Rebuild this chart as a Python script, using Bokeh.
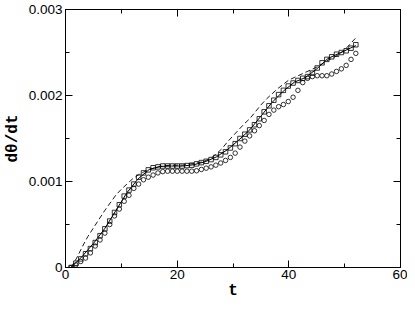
from bokeh.plotting import figure
from bokeh.models import LinearAxis, FixedTicker, CustomJSTickFormatter
from bokeh.embed import file_html
from bokeh.resources import INLINE

# ---- data ----
t_pts = [1.00, 1.86, 2.73, 3.59, 4.46, 5.32, 6.19, 7.05, 7.92, 8.78,
         9.64, 10.51, 11.37, 12.24, 13.10, 13.97, 14.83, 15.69, 16.56, 17.42,
         18.29, 19.15, 20.02, 20.88, 21.75, 22.61, 23.47, 24.34, 25.20, 26.07,
         26.93, 27.80, 28.66, 29.53, 30.39, 31.25, 32.12, 32.98, 33.85, 34.71,
         35.58, 36.44, 37.31, 38.17, 39.03, 39.90, 40.76, 41.63, 42.49, 43.36,
         44.22, 45.08, 45.95, 46.81, 47.68, 48.54, 49.41, 50.27, 51.14, 52.00]

squares = [0.00, 0.05, 0.10, 0.16, 0.22, 0.29, 0.37, 0.45, 0.54, 0.64,
           0.73, 0.83, 0.90, 0.97, 1.05, 1.10, 1.135, 1.16, 1.17, 1.18,
           1.18, 1.18, 1.18, 1.18, 1.185, 1.19, 1.205, 1.22, 1.235, 1.255,
           1.28, 1.31, 1.345, 1.39, 1.44, 1.50, 1.55, 1.60, 1.66, 1.73,
           1.81, 1.88, 1.945, 2.01, 2.06, 2.11, 2.145, 2.175, 2.20, 2.22,
           2.26, 2.32, 2.38, 2.42, 2.45, 2.48, 2.50, 2.52, 2.55, 2.59]

circles = [0.00, 0.03, 0.07, 0.11, 0.17, 0.25, 0.32, 0.40, 0.50, 0.60,
           0.68, 0.77, 0.84, 0.92, 0.97, 1.02, 1.05, 1.075, 1.10, 1.115,
           1.12, 1.12, 1.12, 1.12, 1.12, 1.12, 1.125, 1.14, 1.155, 1.17,
           1.19, 1.215, 1.245, 1.28, 1.33, 1.40, 1.47, 1.53, 1.59, 1.65,
           1.71, 1.78, 1.83, 1.87, 1.895, 1.93, 1.98, 2.06, 2.15, 2.20,
           2.22, 2.23, 2.23, 2.23, 2.25, 2.28, 2.31, 2.35, 2.42, 2.49]

t_solid = [1, 3, 5, 7, 9, 11, 13, 15, 17, 19, 21, 23, 25, 27, 29, 31, 33,
           35, 37, 39, 41, 43, 45, 47, 49, 51, 52]
solid = [0.0, 0.13, 0.28, 0.45, 0.66, 0.87, 1.03, 1.14, 1.175, 1.18, 1.18,
         1.195, 1.23, 1.285, 1.37, 1.48, 1.60, 1.76, 1.92, 2.05, 2.155, 2.21,
         2.31, 2.43, 2.49, 2.55, 2.58]

t_dash = list(range(1, 53))
dashed = [0.0, 0.11, 0.24, 0.36, 0.46, 0.56, 0.66, 0.75, 0.84, 0.91,
          0.97, 1.03, 1.075, 1.11, 1.14, 1.16, 1.175, 1.185, 1.19, 1.19,
          1.19, 1.20, 1.21, 1.22, 1.24, 1.27, 1.32, 1.38, 1.46, 1.53,
          1.60, 1.67, 1.73, 1.81, 1.89, 1.96, 2.02, 2.08, 2.13, 2.18,
          2.21, 2.24, 2.27, 2.30, 2.33, 2.37, 2.41, 2.44, 2.48, 2.53,
          2.60, 2.67]

x_ticks = [0, 20, 40, 60]
x_minor = [10, 30, 50]
y_ticks = [0, 0.001, 0.002, 0.003]
y_minor = [0.0005, 0.0015, 0.0025]

scale = 1e-3
sq = [v * scale for v in squares]
ci = [v * scale for v in circles]
so = [v * scale for v in solid]
da = [v * scale for v in dashed]

p = figure(width=407, height=302, x_range=(0, 60), y_range=(0, 0.003),
           output_backend="svg", toolbar_location=None,
           min_border_left=0, min_border_right=7, min_border_top=9,
           min_border_bottom=0)
p.xgrid.visible = False
p.ygrid.visible = False
p.outline_line_color = "black"
p.outline_line_width = 1
p.background_fill_color = "white"
p.border_fill_color = "white"

p.line(t_dash, da, line_color="black", line_width=0.9, line_dash="5 3")
p.line(t_solid, so, line_color="black", line_width=1)
p.scatter(t_pts, sq, marker="square", size=4.5, fill_color=None,
          line_color="black", line_width=0.8)
p.scatter(t_pts, ci, marker="circle", size=4.5, fill_color=None,
          line_color="black", line_width=0.8)

tick_font = "Liberation Sans"


def style(ax, ticks, minor):
    ax.ticker = FixedTicker(ticks=ticks, minor_ticks=minor)
    ax.axis_line_color = "black"
    ax.axis_line_width = 1
    ax.major_tick_in = 7
    ax.major_tick_out = 0
    ax.minor_tick_in = 4
    ax.minor_tick_out = 0
    ax.major_tick_line_color = "black"
    ax.minor_tick_line_color = "black"
    ax.major_label_text_font = tick_font
    ax.major_label_text_font_size = "13.5px"
    ax.major_label_text_color = "black"
    ax.axis_label_text_color = "black"


xa = p.xaxis[0]
style(xa, x_ticks, x_minor)
xa.axis_label = "t"
xa.axis_label_text_font = "Liberation Mono"
xa.axis_label_text_font_style = "bold"
xa.axis_label_text_font_size = "16px"
xa.axis_label_standoff = 0
xa.major_label_standoff = 2

ya = p.yaxis[0]
style(ya, y_ticks, y_minor)
ya.formatter = CustomJSTickFormatter(code="return tick == 0 ? '0' : tick.toFixed(3);")
ya.axis_label = "dθ/dt"
ya.axis_label_text_font = "Liberation Mono"
ya.axis_label_text_font_style = "bold"
ya.axis_label_text_font_size = "16px"
ya.axis_label_standoff = 4
ya.major_label_standoff = 3

blank = "return '';"
top = LinearAxis()
style(top, x_ticks, x_minor)
top.formatter = CustomJSTickFormatter(code=blank)
top.major_label_text_font_size = "1px"
top.major_label_standoff = 0
p.add_layout(top, "above")

right = LinearAxis()
style(right, y_ticks, y_minor)
right.formatter = CustomJSTickFormatter(code=blank)
right.major_label_text_font_size = "1px"
right.major_label_standoff = 0
p.add_layout(right, "right")

open("out.html", "w").write(file_html(p, INLINE))
